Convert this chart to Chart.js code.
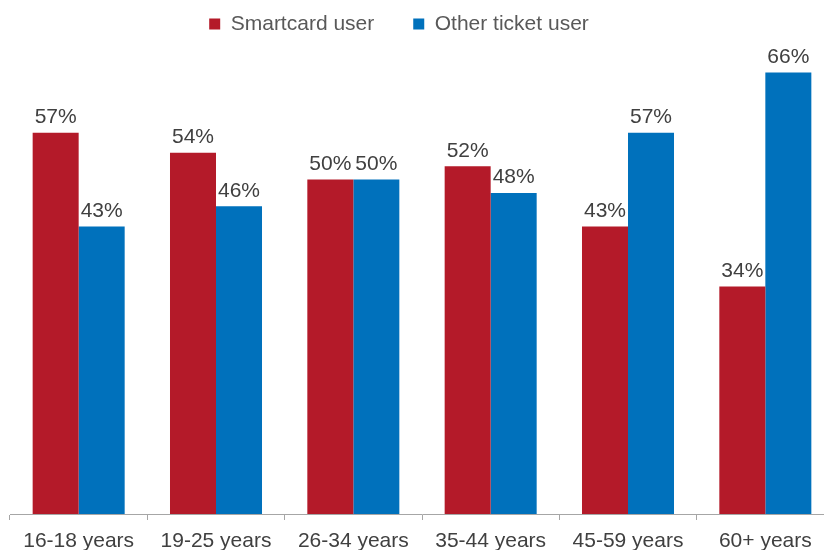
<!DOCTYPE html>
<html>
<head>
<meta charset="utf-8">
<script src="https://cdn.jsdelivr.net/npm/chart.js@4.4.1/dist/chart.umd.min.js"></script>
<style>
  html, body { margin: 0; padding: 0; background: #ffffff; overflow: hidden; width: 824px; height: 550px; }
  #wrap { width: 834px; height: 550px; }
</style>
</head>
<body>
<div id="wrap"><canvas id="c" width="834" height="550"></canvas></div>
<script>
const categories = ['16-18 years', '19-25 years', '26-34 years', '35-44 years', '45-59 years', '60+ years'];
const seriesNames = ['Smartcard user', 'Other ticket user'];
const smartcard = [57, 54, 50, 52, 43, 34];
const otherTicket = [43, 46, 50, 48, 57, 66];

const FONT = "'Liberation Sans', Arial, sans-serif";
const TEXT = '#404040';
const LEGEND_TEXT = '#595959';

const valueLabels = {
  id: 'valueLabels',
  afterDatasetsDraw(chart) {
    const ctx = chart.ctx;
    ctx.save();
    ctx.font = '21px ' + FONT;
    ctx.fillStyle = TEXT;
    ctx.textAlign = 'center';
    ctx.textBaseline = 'alphabetic';
    chart.data.datasets.forEach((ds, di) => {
      const meta = chart.getDatasetMeta(di);
      meta.data.forEach((el, i) => {
        ctx.fillText(ds.data[i] + '%', el.x, el.y - 9.5);
      });
    });
    ctx.restore();
  }
};

const shiftLegend = {
  id: 'shiftLegend',
  afterUpdate(chart) {
    const l = chart.legend;
    if (l) { l.left -= 23; l.right -= 23; }
  }
};

new Chart(document.getElementById('c'), {
  type: 'bar',
  data: {
    labels: categories,
    datasets: [
      { label: seriesNames[0], data: smartcard, backgroundColor: '#B41A29', borderWidth: 0 },
      { label: seriesNames[1], data: otherTicket, backgroundColor: '#0071BC', borderWidth: 0 }
    ]
  },
  options: {
    responsive: false,
    animation: false,
    devicePixelRatio: 1,
    layout: { padding: { left: 10, right: 0, top: -25.5, bottom: -13 } },
    datasets: { bar: { categoryPercentage: 0.67, barPercentage: 1.0 } },
    plugins: {
      legend: {
        position: 'top',
        align: 'center',
        labels: {
          boxWidth: 11,
          boxHeight: 11,
          padding: 39,
          color: LEGEND_TEXT,
          font: { family: FONT, size: 21 }
        }
      },
      tooltip: { enabled: false }
    },
    scales: {
      x: {
        offset: true,
        grid: { display: true, drawOnChartArea: false, drawTicks: true, tickLength: 6, color: '#A6A6A6', offset: true },
        border: { display: true, color: '#A6A6A6', width: 1 },
        ticks: { color: TEXT, padding: 11, font: { family: FONT, size: 21, lineHeight: 1 }, maxRotation: 0, autoSkip: false }
      },
      y: {
        display: false,
        min: 0,
        max: 70.2,
        beginAtZero: true
      }
    }
  },
  plugins: [valueLabels, shiftLegend]
});
</script>
</body>
</html>
